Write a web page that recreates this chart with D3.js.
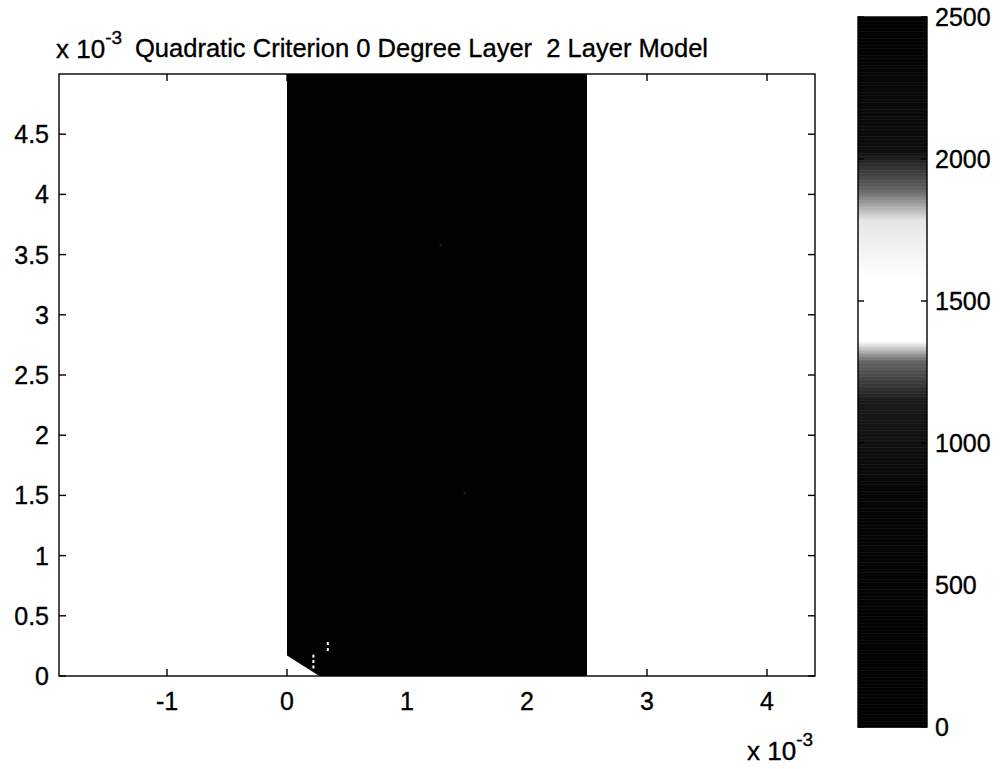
<!DOCTYPE html>
<head>
  <meta charset="utf-8">
  <title>Quadratic Criterion</title>
  <script src="https://cdn.jsdelivr.net/npm/d3@7"></script>
  <style>
    body { margin: 0; background: #fff; }
    text { font-family: "Liberation Sans", Arial, sans-serif; fill: #000; stroke: #000; stroke-width: 0.35px; }
  </style>
</head>
<body>
  <div id="chart"></div>
  <script>
    // ticks (units of 1e-3)
    var xTicks = [-1, 0, 1, 2, 3, 4];
    var yTicks = [0, 0.5, 1, 1.5, 2, 2.5, 3, 3.5, 4, 4.5];
    var cTicks = [0, 500, 1000, 1500, 2000, 2500];

    // outline of the computed field (units of 1e-3) and its value
    var fieldX = [0, 0, 0.27, 2.5, 2.5];
    var fieldY = [5, 0.17, 0, 0, 5];
    var fieldValue = 2450;

    // small light specks inside the field
    var speckX = [0.22, 0.22, 0.22, 0.34, 0.34, 1.28, 1.48];
    var speckY = [0.165, 0.12, 0.075, 0.27, 0.22, 3.58, 1.52];
    var speckValue = [1500, 1500, 1500, 1500, 1500, 1150, 1150];

    // grey colormap (0 = black, 1 = white)
    var cmapValues = [0, 840, 1150, 1290, 1360, 1585, 1785, 1890, 2030, 2500];
    var cmapGray = [0, 0.02, 0.1, 0.4, 1, 1, 0.9, 0.4, 0.05, 0];

    var width = 1000, height = 769;

    var x = d3.scaleLinear().domain([-1.9, 4.4]).range([59, 815]);
    var y = d3.scaleLinear().domain([0, 5]).range([676, 74]);
    var c = d3.scaleLinear().domain([0, 2500]).range([727, 17]);
    var grayOf = d3.scaleLinear().domain(cmapValues).range(cmapGray).clamp(true);
    function color(v) { var g = Math.round(grayOf(v) * 255); return d3.rgb(g, g, g); }

    var svg = d3.select('#chart').append('svg')
      .attr('width', width).attr('height', height);

    // field
    var pts = fieldX.map(function (d, i) { return [x(d), y(fieldY[i])]; });
    svg.append('path')
      .attr('d', d3.line()(pts) + 'Z')
      .attr('fill', color(fieldValue));

    svg.selectAll('.speck')
      .data(speckX)
      .enter().append('rect')
      .attr('x', function (d) { return x(d) - 1; })
      .attr('y', function (d, i) { return y(speckY[i]) - 1.5; })
      .attr('width', 2).attr('height', 3)
      .attr('fill', function (d, i) { return color(speckValue[i]); });

    // axes box with inward ticks
    var x0 = x.range()[0], x1 = x.range()[1], y0 = y.range()[0], y1 = y.range()[1];
    var tl = 7;
    var ax = svg.append('g').attr('stroke', '#000').attr('stroke-width', 1.4);
    ax.append('rect').attr('x', x0).attr('y', y1).attr('width', x1 - x0).attr('height', y0 - y1)
      .attr('fill', 'none');
    xTicks.forEach(function (t) {
      ax.append('line').attr('x1', x(t)).attr('x2', x(t)).attr('y1', y0).attr('y2', y0 - tl);
      ax.append('line').attr('x1', x(t)).attr('x2', x(t)).attr('y1', y1).attr('y2', y1 + tl);
    });
    yTicks.forEach(function (t) {
      ax.append('line').attr('x1', x0).attr('x2', x0 + tl).attr('y1', y(t)).attr('y2', y(t));
      ax.append('line').attr('x1', x1).attr('x2', x1 - tl).attr('y1', y(t)).attr('y2', y(t));
    });

    var fs = 25;
    svg.selectAll('.xl').data(xTicks).enter().append('text')
      .attr('x', function (d) { return x(d); })
      .attr('y', 710)
      .attr('text-anchor', 'middle')
      .style('font-size', fs + 'px')
      .text(function (d) { return d; });

    svg.selectAll('.yl').data(yTicks).enter().append('text')
      .attr('x', 49)
      .attr('y', function (d) { return y(d) + 9; })
      .attr('text-anchor', 'end')
      .style('font-size', fs + 'px')
      .text(function (d) { return d; });

    // exponent labels
    function expLabel(px, py) {
      var t = svg.append('text').attr('x', px).attr('y', py).style('font-size', '26px');
      t.append('tspan').text('x 10');
      t.append('tspan').attr('dy', -14).style('font-size', '19px').text('-3');
      return t;
    }
    expLabel(56, 58);
    expLabel(747, 760);

    svg.append('text')
      .attr('x', 135).attr('y', 57)
      .style('font-size', '25.5px')
      .attr('textLength', 573)
      .attr('lengthAdjust', 'spacingAndGlyphs')
      .text('Quadratic Criterion 0 Degree Layer  2 Layer Model')
      .attr('xml:space', 'preserve');

    // colorbar
    var cbX = 858, cbW = 69;
    var steps = d3.range(0, 2500, 5);
    svg.selectAll('.cb').data(steps).enter().append('rect')
      .attr('x', cbX)
      .attr('y', function (d) { return c(d + 5); })
      .attr('width', cbW)
      .attr('height', function (d) { return c(d) - c(d + 5) + 0.5; })
      .attr('fill', function (d) { return color(d + 2.5); });

    var cb = svg.append('g').attr('stroke', '#000').attr('stroke-width', 1.4);
    cb.append('rect').attr('x', cbX).attr('y', c(2500)).attr('width', cbW)
      .attr('height', c(0) - c(2500)).attr('fill', 'none');
    cTicks.forEach(function (t) {
      cb.append('line').attr('x1', cbX).attr('x2', cbX + 6).attr('y1', c(t)).attr('y2', c(t));
      cb.append('line').attr('x1', cbX + cbW).attr('x2', cbX + cbW - 6).attr('y1', c(t)).attr('y2', c(t));
    });
    svg.selectAll('.cl').data(cTicks).enter().append('text')
      .attr('x', 935)
      .attr('y', function (d) { return c(d) + 9; })
      .style('font-size', fs + 'px')
      .text(function (d) { return d; });
  </script>
</body>
